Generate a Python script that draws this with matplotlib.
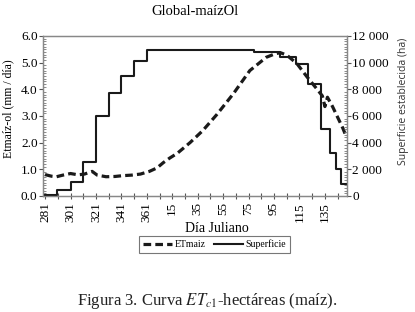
import numpy as np
import matplotlib
matplotlib.use('Agg')
import matplotlib.pyplot as plt
from matplotlib.ticker import MultipleLocator, FuncFormatter

plt.rcParams['font.family'] = ['Liberation Serif', 'DejaVu Serif']
plt.rcParams['mathtext.fontset'] = 'stix'

# Julian days (Oct -> May, leap year so day 366 exists)
et_dias = [281, 286, 290, 295, 301, 307, 312, 318, 322, 329, 336, 342, 349, 356, 363,
           3, 8, 13, 19, 29, 39, 50, 63, 76, 89, 96, 100, 105, 113, 121, 128,
           133, 135, 137, 141, 145, 149, 152]
et_maiz = [0.80, 0.74, 0.72, 0.78, 0.84, 0.79, 0.82, 0.92, 0.78, 0.72, 0.73, 0.76, 0.78, 0.82, 0.92,
           1.05, 1.25, 1.42, 1.60, 2.00, 2.45, 3.05, 3.83, 4.70, 5.20, 5.33, 5.37, 5.28, 4.96, 4.46, 4.05,
           3.75, 3.35, 3.70, 3.35, 2.95, 2.55, 2.20]

sup_dias = [281, 290, 301, 311, 321, 331, 341, 351, 361, 79, 100, 112, 122, 132, 139, 144, 148, 152]
superficie = [100, 480, 1050, 2550, 6000, 7750, 8970, 10120, 10920, 10780, 10420, 9920, 8420,
              5000, 3220, 2050, 880, 880]

tick_dias = [281, 301, 321, 341, 361, 15, 35, 55, 75, 95, 115, 135]


def idx(d):
    d = np.asarray(d)
    return np.where(d >= 281, d - 281, d + 85)


fig = plt.figure(figsize=(4.15, 3.12), dpi=100)
ax = fig.add_axes([0.104, 0.372, 0.731, 0.513])
ax2 = ax.twinx()

ln1, = ax.plot(idx(et_dias), et_maiz, color='#1a1a1a', lw=2.3, dashes=(2.4, 1.3))
ln2, = ax2.step(idx(sup_dias), superficie, where='post', color='#1a1a1a', lw=1.5)

ax.set_xlim(-1.5, 237)
ax.set_ylim(0, 6)
ax2.set_ylim(0, 12000)

ax.set_xticks(idx(tick_dias))
ax.set_xticklabels([str(d) for d in tick_dias], rotation=90, fontsize=9.5)
ax.xaxis.set_minor_locator(MultipleLocator(10))
ax.tick_params(axis='x', which='both', direction='inout', length=5, width=0.8, color='#555', pad=2)

ax.yaxis.set_major_locator(MultipleLocator(1))
ax.yaxis.set_minor_locator(MultipleLocator(0.1))
ax.yaxis.set_major_formatter(FuncFormatter(lambda v, p: f'{v:.1f}'))
ax.tick_params(axis='y', which='major', direction='out', length=3, labelsize=9.5, color='#555', pad=1)
ax.tick_params(axis='y', which='minor', direction='in', length=2, color='#777')

ax2.yaxis.set_major_locator(MultipleLocator(2000))
ax2.yaxis.set_minor_locator(MultipleLocator(200))
ax2.yaxis.set_major_formatter(FuncFormatter(lambda v, p: f'{int(v):,}'.replace(',', ' ')))
ax2.tick_params(axis='y', which='major', direction='out', length=3, labelsize=9.5, color='#555', pad=1)
ax2.tick_params(axis='y', which='minor', direction='in', length=2, color='#777')

for a in (ax, ax2):
    for s in a.spines.values():
        s.set_color('#888')
        s.set_linewidth(0.9)

ax.set_ylabel('Etmaíz-ol (mm / día)', fontsize=8.5)
ax.yaxis.set_label_coords(-0.095, 0.547)
ax2.set_ylabel('Superficie establecida (ha)', fontsize=7.5, family=['Open Sans', 'DejaVu Sans'],
               color='#333')
ax2.yaxis.set_label_coords(1.17, 0.59)
ax.set_xlabel('Día Juliano', fontsize=10)
ax.xaxis.set_label_coords(0.573, -0.165)
ax.set_title('Global-maízOl', fontsize=10.5, pad=15)

leg = fig.legend([ln1, ln2], ['ETmaiz', 'Superficie'], loc='center', bbox_to_anchor=(0.517, 0.216),
                 ncol=2, fontsize=7, frameon=True, fancybox=False, edgecolor='#555',
                 handlelength=3, columnspacing=0.8, handletextpad=0.3, borderpad=0.35)
leg.get_frame().set_linewidth(0.8)

fig.text(0.5, 0.022, r'Figura 3. Curva $\mathit{ET}_{c1}$-hectáreas (maíz).', ha='center',
         fontsize=12, color='#222')

fig.savefig('out.png', dpi=100)
